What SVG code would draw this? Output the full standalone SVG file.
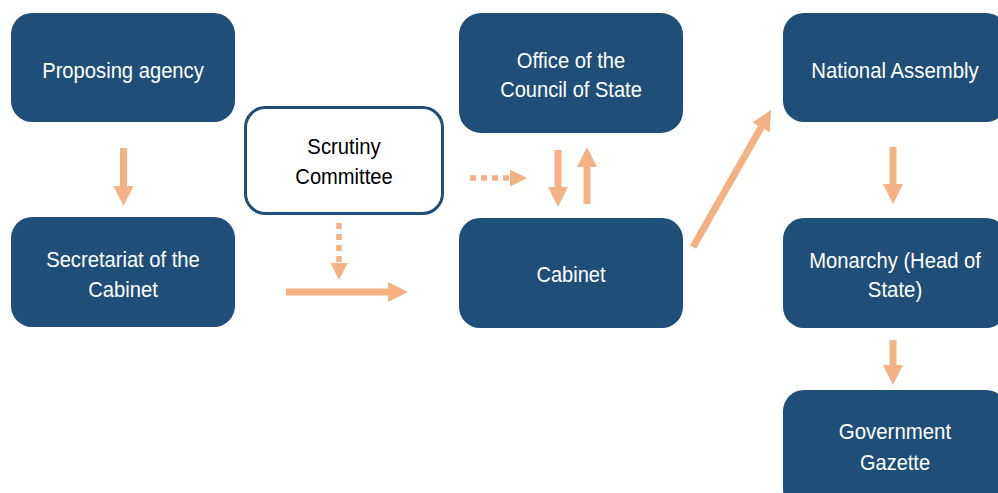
<svg xmlns="http://www.w3.org/2000/svg" width="998" height="493" viewBox="0 0 998 493">
<style>
.box{fill:#1F4E79}
.sbox{fill:#fff;stroke:#1F4E79;stroke-width:3}
.t{font-family:"Liberation Sans",Arial,sans-serif;font-size:22px;fill:#fff;text-anchor:middle}
.tb{fill:#000}
.a{stroke:#F4B183;stroke-width:7;fill:none}
.d{stroke:#F4B183;stroke-width:5.5;fill:none;stroke-dasharray:6 5}
</style>
<defs>
<marker id="h" markerUnits="userSpaceOnUse" markerWidth="20" markerHeight="20" viewBox="0 -10 20 20" refX="0" refY="0" orient="auto" overflow="visible">
<path d="M0,-10 L20,0 L0,10 z" fill="#F4B183"/>
</marker>
<marker id="hd" markerUnits="userSpaceOnUse" markerWidth="17" markerHeight="17" viewBox="0 -8.5 17 17" refX="0" refY="0" orient="auto" overflow="visible">
<path d="M0,-8.5 L17,0 L0,8.5 z" fill="#F4B183"/>
</marker>
</defs>
<rect width="998" height="493" fill="#fff"/>
<g id="connectors">
<line class="a" x1="123.5" y1="148" x2="123.5" y2="186" marker-end="url(#h)"/>
<line class="d" x1="339" y1="223" x2="339" y2="263" marker-end="url(#hd)"/>
<line class="a" x1="286" y1="292" x2="388" y2="292" marker-end="url(#h)"/>
<line class="d" x1="470" y1="178" x2="510" y2="178" marker-end="url(#hd)"/>
<line class="a" x1="558" y1="150" x2="558" y2="187" marker-end="url(#h)"/>
<line class="a" x1="587" y1="204" x2="587" y2="167" marker-end="url(#h)"/>
<line class="a" x1="693" y1="247" x2="761.1" y2="127.4" marker-end="url(#h)"/>
<line class="a" x1="893" y1="147" x2="893" y2="184" marker-end="url(#h)"/>
<line class="a" x1="893" y1="340" x2="893" y2="365" marker-end="url(#h)"/>
</g>
<g id="proposing">
<rect class="box" x="11" y="13" width="224" height="109" rx="21"/>
<text class="t" x="123" y="77.5" textLength="161.6" lengthAdjust="spacingAndGlyphs">Proposing agency</text>
</g>
<g id="secretariat">
<rect class="box" x="11" y="217" width="224" height="110" rx="21"/>
<text class="t" x="123" y="266.7" textLength="153.6" lengthAdjust="spacingAndGlyphs">Secretariat of the</text>
<text class="t" x="123" y="296.7" textLength="69.7" lengthAdjust="spacingAndGlyphs">Cabinet</text>
</g>
<g id="scrutiny">
<rect class="sbox" x="245.5" y="107.5" width="197" height="106" rx="20"/>
<text class="t tb" x="344" y="154.3" textLength="73.3" lengthAdjust="spacingAndGlyphs">Scrutiny</text>
<text class="t tb" x="344" y="184.3" textLength="97.3" lengthAdjust="spacingAndGlyphs">Committee</text>
</g>
<g id="office">
<rect class="box" x="459" y="13" width="224" height="120" rx="22"/>
<text class="t" x="571" y="68.3" textLength="108.3" lengthAdjust="spacingAndGlyphs">Office of the</text>
<text class="t" x="571" y="97.3" textLength="141.7" lengthAdjust="spacingAndGlyphs">Council of State</text>
</g>
<g id="cabinet">
<rect class="box" x="459" y="218" width="224" height="110" rx="21"/>
<text class="t" x="571" y="281.7" textLength="69" lengthAdjust="spacingAndGlyphs">Cabinet</text>
</g>
<g id="assembly">
<rect class="box" x="783" y="13" width="224" height="109" rx="21"/>
<text class="t" x="895" y="77.7" textLength="167.3" lengthAdjust="spacingAndGlyphs">National Assembly</text>
</g>
<g id="monarchy">
<rect class="box" x="783" y="218" width="224" height="110" rx="21"/>
<text class="t" x="895" y="268.3" textLength="171.7" lengthAdjust="spacingAndGlyphs">Monarchy (Head of</text>
<text class="t" x="895" y="297" textLength="54.4" lengthAdjust="spacingAndGlyphs">State)</text>
</g>
<g id="gazette">
<rect class="box" x="783" y="390" width="224" height="120" rx="21"/>
<text class="t" x="895" y="439.3" textLength="112.3" lengthAdjust="spacingAndGlyphs">Government</text>
<text class="t" x="895" y="470" textLength="70" lengthAdjust="spacingAndGlyphs">Gazette</text>
</g>
</svg>
